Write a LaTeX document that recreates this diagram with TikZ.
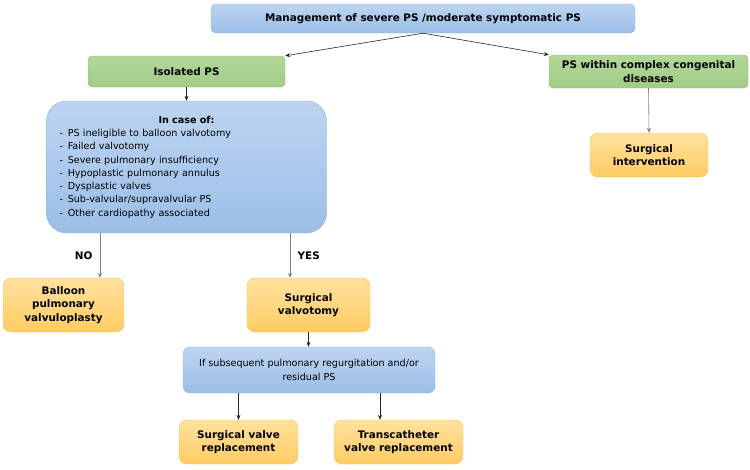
\documentclass[tikz,border=0pt]{standalone}
\usepackage{fontspec}
\setmainfont{DejaVu Sans}
\usetikzlibrary{arrows.meta,positioning}

\definecolor{blueTop}{HTML}{BDD4F0}
\definecolor{blueBot}{HTML}{9BBEE8}
\definecolor{blueLine}{HTML}{8DB2E0}
\definecolor{greenTop}{HTML}{B3D79B}
\definecolor{greenBot}{HTML}{A2CC86}
\definecolor{greenLine}{HTML}{8FBF6E}
\definecolor{orangeTop}{HTML}{FFE19E}
\definecolor{orangeBot}{HTML}{FFCC63}
\definecolor{orangeLine}{HTML}{F6C453}

\begin{document}
\begin{tikzpicture}[x=1pt, y=1pt, >={Stealth[length=5pt,width=4pt]},
  box/.style={draw, align=center, inner sep=2pt, font=\bfseries\fontsize{10.4}{13.3}\selectfont},
  bluebox/.style={box, draw=blueLine, top color=blueTop, bottom color=blueBot},
  greenbox/.style={box, draw=greenLine, top color=greenTop, bottom color=greenBot, rounded corners=4pt},
  orangebox/.style={box, draw=orangeLine, top color=orangeTop, bottom color=orangeBot, rounded corners=8pt},
  plaintext/.style={font=\fontsize{9.6}{13.3}\selectfont},
  link/.style={->, draw=black!85, semithick},
  greylink/.style={->, draw=black!50, semithick}]

	\useasboundingbox (0,0) rectangle (750,-469);

	\node[bluebox, rounded corners=5pt, minimum width=424, minimum height=29] (manage) at (423,-18.5) {Management of severe PS /moderate symptomatic PS};
	\node[greenbox, minimum width=197, minimum height=31] (isolated) at (186.5,-71.5) {Isolated PS};
	\node[greenbox, minimum width=199, minimum height=33] (complex) at (648.5,-71.5) {PS within complex congenital\\diseases};
	\node[orangebox, minimum width=118, minimum height=44] (intervention) at (649,-155) {Surgical\\intervention};

	\node[bluebox, plaintext, align=left, rounded corners=20pt, minimum width=280, minimum height=132, text width=254, inner xsep=13pt] (incase) at (186.5,-167)
		{\makebox[254pt][c]{\bfseries In case of:}\\
		-\enspace PS ineligible to balloon valvotomy\\
		-\enspace Failed valvotomy\\
		-\enspace Severe pulmonary insufficiency\\
		-\enspace Hypoplastic pulmonary annulus\\
		-\enspace Dysplastic valves\\
		-\enspace Sub-valvular/supravalvular PS\\
		-\enspace Other cardiopathy associated};

	\node[orangebox, minimum width=121, minimum height=54] (balloon) at (63.5,-305) {Balloon\\pulmonary\\valvuloplasty};
	\node[orangebox, minimum width=123, minimum height=54] (valvotomy) at (308.5,-305) {Surgical\\valvotomy};
	\node[bluebox, plaintext, rounded corners=7pt, minimum width=252, minimum height=46] (ifbox) at (309,-370) {If subsequent pulmonary regurgitation and/or\\residual PS};
	\node[orangebox, minimum width=119, minimum height=44] (surgvalve) at (238.5,-442) {Surgical valve\\replacement};
	\node[orangebox, minimum width=129, minimum height=44] (transcath) at (398.5,-442) {Transcatheter\\valve replacement};

	\coordinate (noX) at (100,0);
	\coordinate (yesX) at (290,0);
	\coordinate (tavX) at (380,0);

	\path
	(manage.south) edge[link] (isolated.north east)
			edge[link] (complex.north west)
	(isolated.south) edge[link] (incase.north)
	(complex.south) edge[greylink] (intervention.north)
	(incase.south -| noX) edge[greylink] node[left=4pt, font=\bfseries\fontsize{10.4}{10}\selectfont] {NO} (balloon.north -| noX)
	(incase.south -| yesX) edge[greylink] node[right=4pt, font=\bfseries\fontsize{10.4}{10}\selectfont] {YES} (valvotomy.north -| yesX)
	(valvotomy.south) edge[link] (ifbox.north -| valvotomy.south)
	(ifbox.south -| surgvalve.north) edge[link] (surgvalve.north)
	(ifbox.south -| tavX) edge[link] (transcath.north -| tavX);

\end{tikzpicture}
\end{document}
